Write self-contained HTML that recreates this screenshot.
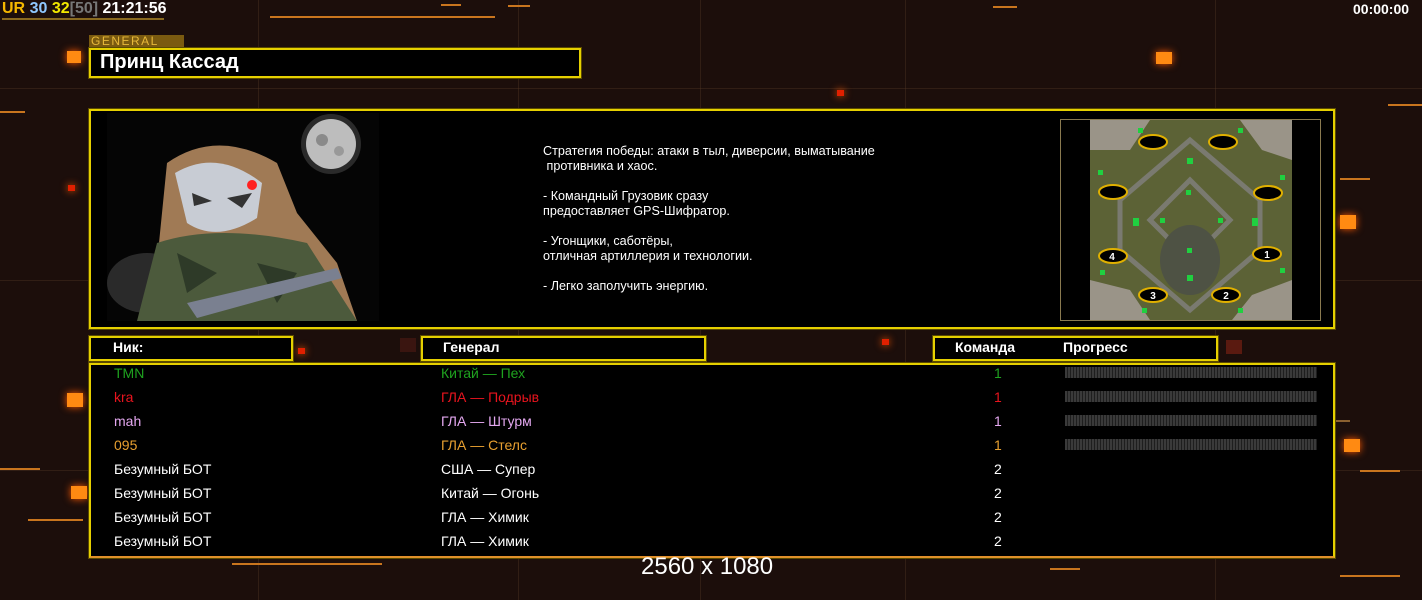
<!DOCTYPE html>
<html><head><meta charset="utf-8"><style>
*{margin:0;padding:0;box-sizing:border-box}
body{width:1422px;height:600px;background:#1c0e0b;position:relative;overflow:hidden;font-family:"Liberation Sans",Arial,sans-serif;color:#fff}
.a{position:absolute}
.box{position:absolute;background:#000;border:2px solid #e6d000;box-shadow:0 0 0 1px #5a4a00}
.ln{position:absolute;background:#c9751e;height:2px}
.sq{position:absolute;background:#ff8a12;box-shadow:0 0 8px #ff5a00}
.gl{position:absolute;background:rgba(90,60,40,.35)}
.t{position:absolute;font-size:14px;white-space:nowrap}
.pb{position:absolute;left:1065px;width:252px;height:11px;background:repeating-linear-gradient(90deg,#3a3a3a 0 2px,#1e1e1e 2px 3px)}
</style></head><body>
<div class="gl" style="left:258px;top:0;width:1px;height:600px"></div>
<div class="gl" style="left:518px;top:0;width:1px;height:600px"></div>
<div class="gl" style="left:700px;top:0;width:1px;height:600px"></div>
<div class="gl" style="left:905px;top:0;width:1px;height:600px"></div>
<div class="gl" style="left:1215px;top:0;width:1px;height:600px"></div>
<div class="gl" style="left:0;top:88px;width:1422px;height:1px"></div>
<div class="gl" style="left:0;top:280px;width:1422px;height:1px"></div>
<div class="gl" style="left:0;top:470px;width:1422px;height:1px"></div>
<div class="ln" style="left:2px;top:18px;width:162px;background:#8a6a20"></div>
<div class="ln" style="left:270px;top:16px;width:225px"></div>
<div class="ln" style="left:441px;top:4px;width:20px"></div>
<div class="ln" style="left:508px;top:5px;width:22px"></div>
<div class="ln" style="left:993px;top:6px;width:24px"></div>
<div class="ln" style="left:0;top:111px;width:25px"></div>
<div class="ln" style="left:1388px;top:104px;width:34px"></div>
<div class="ln" style="left:1340px;top:178px;width:30px"></div>
<div class="ln" style="left:1320px;top:420px;width:30px;background:#8a6030"></div>
<div class="ln" style="left:1360px;top:470px;width:40px"></div>
<div class="ln" style="left:0;top:468px;width:40px"></div>
<div class="ln" style="left:28px;top:519px;width:55px"></div>
<div class="ln" style="left:232px;top:563px;width:150px"></div>
<div class="ln" style="left:1340px;top:575px;width:60px"></div>
<div class="ln" style="left:1050px;top:568px;width:30px"></div>
<div class="sq" style="left:67px;top:51px;width:14px;height:12px"></div>
<div class="sq" style="left:1156px;top:52px;width:16px;height:12px"></div>
<div class="sq" style="left:1340px;top:215px;width:16px;height:14px"></div>
<div class="sq" style="left:67px;top:393px;width:16px;height:14px"></div>
<div class="sq" style="left:1344px;top:439px;width:16px;height:13px"></div>
<div class="sq" style="left:71px;top:486px;width:16px;height:13px"></div>
<div class="sq" style="left:837px;top:90px;width:7px;height:6px;background:#e02000"></div>
<div class="sq" style="left:68px;top:185px;width:7px;height:6px;background:#e02000"></div>
<div class="sq" style="left:298px;top:348px;width:7px;height:6px;background:#e02000"></div>
<div class="sq" style="left:882px;top:339px;width:7px;height:6px;background:#e02000"></div>
<div class="sq" style="left:1226px;top:340px;width:16px;height:14px;background:#5a1a10;box-shadow:none"></div>
<div class="sq" style="left:400px;top:338px;width:16px;height:14px;background:#3a1510;box-shadow:none"></div>

<div class="t" style="left:2px;top:0px;font-weight:bold;font-size:16px"><span style="color:#f6b800">UR</span> <span style="color:#8fc8ff">30</span> <span style="color:#f2e800">32</span><span style="color:#777">[50]</span> 21:21:56</div>
<div class="t" style="left:1353px;top:1px;font-weight:bold;font-size:14px">00:00:00</div>

<div class="a" style="left:89px;top:35px;width:95px;height:13px;background:#7a5a10;color:#e8b83a;font-size:12px;line-height:13px;letter-spacing:1.5px;padding-left:2px">GENERAL</div>
<div class="box" style="left:89px;top:48px;width:492px;height:30px"></div>
<div class="t" style="left:100px;top:51px;font-size:20px;font-weight:bold">Принц Кассад</div>

<div class="box" style="left:89px;top:109px;width:1246px;height:220px"></div>
<svg class="a" style="left:107px;top:113px" width="272" height="208" viewBox="0 0 272 208">
<rect width="272" height="208" fill="#050505"/>
<circle cx="224" cy="31" r="30" fill="#fff" opacity=".15"/>
<circle cx="224" cy="31" r="25" fill="#bdbdbd"/>
<circle cx="215" cy="27" r="6" fill="#8a8a8a"/><circle cx="232" cy="38" r="5" fill="#999"/>
<ellipse cx="40" cy="170" rx="40" ry="30" fill="#3a3a3a" opacity=".7"/>
<path d="M60 50 Q110 15 170 50 L190 100 L230 150 L250 208 L40 208 L50 150 Z" fill="#a07a55"/>
<path d="M50 130 Q110 110 200 130 L250 208 L30 208 Z" fill="#4c5a3c"/>
<path d="M70 140 l40 20 l-30 20z M150 150 l40 10 l-20 30z" fill="#2e3a28"/>
<path d="M68 60 Q110 35 155 70 L150 105 Q110 130 80 110 Z" fill="#c8ccd4"/>
<path d="M85 80 l20 8 l-18 5z M120 85 l25 -5 l-10 15z" fill="#333"/>
<circle cx="145" cy="72" r="5" fill="#ff2020"/>
<path d="M80 190 L230 155 L235 165 L90 205 Z" fill="#7a8090"/>
</svg>
<div class="a" style="left:543px;top:144px;font-size:12.6px;line-height:15px;white-space:pre">Стратегия победы: атаки в тыл, диверсии, выматывание
 противника и хаос.

- Командный Грузовик сразу
предоставляет GPS-Шифратор.

- Угонщики, саботёры,
отличная артиллерия и технологии.

- Легко заполучить энергию.</div>
<div class="a" style="left:1060px;top:119px;width:261px;height:202px;border:1px solid #8a7a50;background:#000"></div>
<svg class="a" style="left:1090px;top:120px" width="202" height="200" viewBox="0 0 202 200">
<rect width="202" height="200" fill="#5c6236"/>
<path d="M0 0 h60 l-20 30 h-40z M150 0 h52 v40 l-30 -10z M0 160 l40 10 l20 30 h-60z M202 160 l-40 15 l-20 25 h60z" fill="#9a9488"/>
<path d="M30 80 L100 20 L170 80 L170 130 L100 190 L30 130 Z" fill="none" stroke="#7a7a70" stroke-width="5"/>
<path d="M60 100 L100 60 L140 100 L100 140 Z" fill="none" stroke="#7a7a70" stroke-width="5"/>
<ellipse cx="100" cy="140" rx="30" ry="35" fill="#4e5244"/>
<g fill="#000" stroke="#e0b000" stroke-width="2">
<ellipse cx="63" cy="22" rx="14" ry="7"/><ellipse cx="133" cy="22" rx="14" ry="7"/>
<ellipse cx="23" cy="72" rx="14" ry="7"/><ellipse cx="178" cy="73" rx="14" ry="7"/>
<ellipse cx="23" cy="136" rx="14" ry="7"/><ellipse cx="177" cy="134" rx="14" ry="7"/>
<ellipse cx="63" cy="175" rx="14" ry="7"/><ellipse cx="136" cy="175" rx="14" ry="7"/></g>
<g fill="#fff" font-size="10" font-weight="bold" text-anchor="middle" font-family="Liberation Sans">
<text x="22" y="140">4</text><text x="177" y="138">1</text><text x="63" y="179">3</text><text x="136" y="179">2</text></g>
<g fill="#20d040"><rect x="48" y="8" width="5" height="5"/><rect x="148" y="8" width="5" height="5"/><rect x="97" y="38" width="6" height="6"/><rect x="96" y="70" width="5" height="5"/><rect x="43" y="98" width="6" height="8"/><rect x="70" y="98" width="5" height="5"/><rect x="128" y="98" width="5" height="5"/><rect x="162" y="98" width="6" height="8"/><rect x="97" y="128" width="5" height="5"/><rect x="97" y="155" width="6" height="6"/><rect x="8" y="50" width="5" height="5"/><rect x="190" y="55" width="5" height="5"/><rect x="10" y="150" width="5" height="5"/><rect x="190" y="148" width="5" height="5"/><rect x="52" y="188" width="5" height="5"/><rect x="148" y="188" width="5" height="5"/></g>
</svg>

<div class="box" style="left:89px;top:336px;width:204px;height:25px"></div>
<div class="t" style="left:113px;top:339px;font-weight:bold">Ник:</div>
<div class="box" style="left:421px;top:336px;width:285px;height:25px"></div>
<div class="t" style="left:443px;top:339px;font-weight:bold">Генерал</div>
<div class="box" style="left:933px;top:336px;width:285px;height:25px"></div>
<div class="t" style="left:955px;top:339px;font-weight:bold">Команда</div>
<div class="t" style="left:1063px;top:339px;font-weight:bold">Прогресс</div>

<div class="box" style="left:89px;top:363px;width:1246px;height:195px;border-bottom-color:#e0902a"></div>
<div class="t" style="left:114px;top:365px;color:#1fa21f">TMN</div><div class="t" style="left:441px;top:365px;color:#1fa21f">Китай — Пех</div><div class="t" style="left:994px;top:365px;color:#1fa21f">1</div>
<div class="t" style="left:114px;top:389px;color:#e8141e">kra</div><div class="t" style="left:441px;top:389px;color:#e8141e">ГЛА — Подрыв</div><div class="t" style="left:994px;top:389px;color:#e8141e">1</div>
<div class="t" style="left:114px;top:413px;color:#e4a8f0">mah</div><div class="t" style="left:441px;top:413px;color:#e4a8f0">ГЛА — Штурм</div><div class="t" style="left:994px;top:413px;color:#e4a8f0">1</div>
<div class="t" style="left:114px;top:437px;color:#e8a030">095</div><div class="t" style="left:441px;top:437px;color:#e8a030">ГЛА — Стелс</div><div class="t" style="left:994px;top:437px;color:#e8a030">1</div>
<div class="t" style="left:114px;top:461px">Безумный БОТ</div><div class="t" style="left:441px;top:461px">США — Супер</div><div class="t" style="left:994px;top:461px">2</div>
<div class="t" style="left:114px;top:485px">Безумный БОТ</div><div class="t" style="left:441px;top:485px">Китай — Огонь</div><div class="t" style="left:994px;top:485px">2</div>
<div class="t" style="left:114px;top:509px">Безумный БОТ</div><div class="t" style="left:441px;top:509px">ГЛА — Химик</div><div class="t" style="left:994px;top:509px">2</div>
<div class="t" style="left:114px;top:533px">Безумный БОТ</div><div class="t" style="left:441px;top:533px">ГЛА — Химик</div><div class="t" style="left:994px;top:533px">2</div>
<div class="pb" style="top:367px"></div>
<div class="pb" style="top:391px"></div>
<div class="pb" style="top:415px"></div>
<div class="pb" style="top:439px"></div>

<div class="t" style="left:641px;top:553px;font-size:24px">2560 x 1080</div>
</body></html>
